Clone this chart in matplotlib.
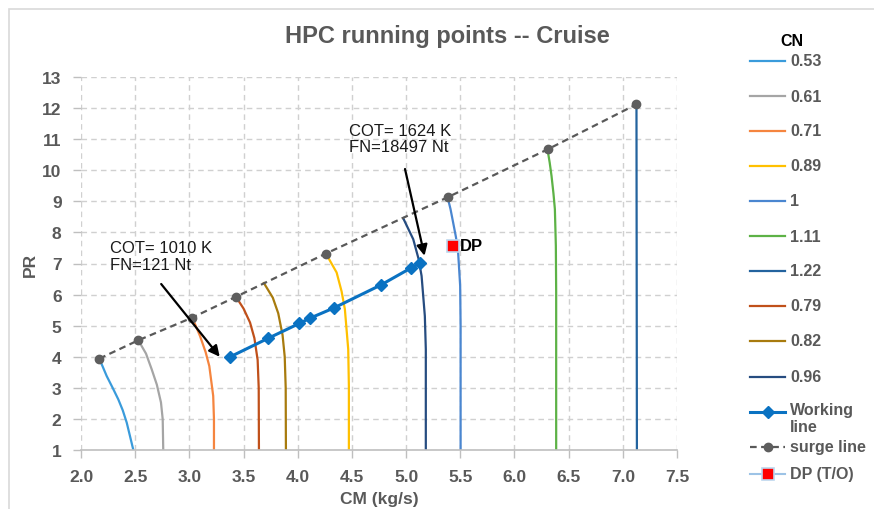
import matplotlib.pyplot as plt
from matplotlib.lines import Line2D
from matplotlib.patches import Rectangle

plt.rcParams['font.family'] = ['Liberation Sans', 'DejaVu Sans']

# constant-speed lines (corrected speed CN): mass flow vs pressure ratio
cn_labels = ['0.53', '0.61', '0.71', '0.89', '1', '1.11', '1.22', '0.79', '0.82', '0.96']
cn_colors = ['#3A9BDB', '#A5A5A5', '#F5853F', '#FFC000', '#4A86D0',
             '#5DB246', '#23639E', '#C0501A', '#A87B0E', '#264C80']
cn_x = [
    [2.169, 2.237, 2.295, 2.344, 2.385, 2.422, 2.483],
    [2.529, 2.600, 2.652, 2.700, 2.738, 2.754, 2.759],
    [3.027, 3.098, 3.150, 3.184, 3.220, 3.227, 3.227],
    [4.260, 4.359, 4.405, 4.435, 4.466, 4.472, 4.472],
    [5.383, 5.410, 5.434, 5.460, 5.480, 5.499, 5.503, 5.503],
    [6.305, 6.325, 6.342, 6.360, 6.373, 6.382, 6.385, 6.385],
    [7.126, 7.130],
    [3.430, 3.500, 3.560, 3.600, 3.630, 3.640, 3.642],
    [3.688, 3.770, 3.820, 3.860, 3.880, 3.889, 3.891],
    [4.973, 5.066, 5.115, 5.143, 5.173, 5.182, 5.182],
]
cn_y = [
    [3.94, 3.38, 2.98, 2.63, 2.28, 1.88, 1.00],
    [4.53, 4.10, 3.60, 3.10, 2.53, 1.99, 1.00],
    [5.26, 4.67, 4.15, 3.70, 2.74, 1.99, 1.00],
    [7.32, 6.71, 6.10, 5.53, 4.24, 3.06, 1.00],
    [9.13, 8.75, 8.32, 7.85, 7.36, 6.28, 4.99, 1.00],
    [10.67, 10.25, 9.82, 9.25, 8.75, 7.57, 6.07, 1.00],
    [12.12, 1.00],
    [5.93, 5.55, 5.10, 4.60, 3.90, 3.00, 1.00],
    [6.37, 5.90, 5.40, 4.70, 4.00, 3.00, 1.00],
    [8.46, 7.78, 7.15, 6.60, 5.31, 4.24, 1.00],
]

surge_x = [2.169, 2.529, 3.027, 3.430, 4.260, 5.383, 6.305, 7.126]
surge_y = [3.94, 4.53, 5.26, 5.93, 7.32, 9.13, 10.67, 12.12]

work_x = [3.372, 3.725, 4.014, 4.113, 4.334, 4.768, 5.047, 5.127]
work_y = [3.99, 4.59, 5.07, 5.24, 5.57, 6.31, 6.86, 7.01]

dp_x = [5.432]
dp_y = [7.55]

gray = '#595959'
W, H = 874, 510

fig = plt.figure(figsize=(8.74, 5.10), dpi=100)
ax = fig.add_axes([81 / W, 1 - 451 / H, 596 / W, 373 / H])

# chart frame
fig.patches.append(Rectangle((8.5 / W, -0.1), 1.2, 1 - 9.5 / H + 0.1,
                             transform=fig.transFigure, fill=False,
                             edgecolor='#D9D9D9', lw=1.2))

styles = []
for xs, ys, lab, col in zip(cn_x, cn_y, cn_labels, cn_colors):
    ax.plot(xs, ys, color=col, lw=1.6, zorder=2)
    styles.append((lab, dict(color=col, lw=1.6)))

work_style = dict(color='#0A72C2', lw=2.2, marker='D', ms=6.5)
surge_style = dict(color=gray, lw=1.6, ls=(0, (3, 2)), marker='o', ms=6,
                   mfc='#5E5E5E', mec='#5E5E5E')
dp_style = dict(color='#9DC3E6', lw=1.5, marker='s', ms=8,
                mfc='#FF0000', mec='#BDD7EE', mew=1.2)

ax.plot(work_x, work_y, zorder=4, **work_style)
ax.plot(surge_x, surge_y, zorder=3, **surge_style)
ax.plot(dp_x, dp_y, zorder=5, **dp_style)

ax.text(dp_x[0] + 0.06, dp_y[0] + 0.02, 'DP', fontsize=12, fontweight='bold',
        va='center', ha='left', color='black')

# operating-point annotations
ax.text(2.27, 7.74, 'COT= 1010 K\nFN=121 Nt', fontsize=12, va='top',
        ha='left', color='#1A1A1A', linespacing=1.1)
ax.annotate('', xy=(3.28, 4.00), xytext=(2.74, 6.34),
            arrowprops=dict(arrowstyle='-|>', color='black', lw=1.6,
                            mutation_scale=16, shrinkA=0, shrinkB=0))
ax.text(4.47, 11.52, 'COT= 1624 K\nFN=18497 Nt', fontsize=12, va='top',
        ha='left', color='#1A1A1A', linespacing=1.1)
ax.annotate('', xy=(5.17, 7.25), xytext=(4.99, 10.04),
            arrowprops=dict(arrowstyle='-|>', color='black', lw=1.6,
                            mutation_scale=16, shrinkA=0, shrinkB=0))

ax.set_xlim(2.0, 7.5)
ax.set_ylim(1, 13)
ax.set_xticks([2.0 + 0.5 * i for i in range(12)])
ax.set_yticks(range(1, 14))
ax.set_xticklabels([f'{2.0 + 0.5 * i:.1f}' for i in range(12)])
ax.grid(True, color='#D0D0D0', ls=(0, (4, 3)), lw=1)
ax.set_axisbelow(True)
for side in ['top', 'right', 'left']:
    ax.spines[side].set_visible(False)
ax.spines['bottom'].set_color('#BFBFBF')
ax.spines['bottom'].set_linewidth(1.2)
ax.tick_params(axis='both', colors='#BFBFBF', length=6, width=1,
               labelcolor=gray, labelsize=12.5, pad=8)
for lbl in ax.get_xticklabels() + ax.get_yticklabels():
    lbl.set_fontweight('bold')

ax.set_xlabel('CM (kg/s)', fontsize=12.5, fontweight='bold', color=gray, labelpad=5)
ax.set_ylabel('PR', fontsize=12.5, fontweight='bold', color=gray, labelpad=3)

fig.text(447 / W, 1 - 36 / H, 'HPC running points -- Cruise',
         fontsize=17, fontweight='bold', color=gray, ha='center', va='center')

# legend column on the right
fig.text(792 / W, 1 - 41 / H, 'CN', fontsize=11.5, fontweight='bold',
         color='black', ha='center', va='center')
entries = [(lab, st, False) for lab, st in styles]
entries += [('Working\nline', work_style, True), ('surge line', surge_style, True),
            ('DP (T/O)', dp_style, True)]
rows = [62, 97, 132, 167, 202, 237, 272, 307, 342, 378, 413, 448, 475]
for (lab, st, has_marker), yp in zip(entries, rows):
    yf = 1 - yp / H
    st = dict(st)
    if has_marker:
        st['markevery'] = [1]
    fig.add_artist(Line2D([750 / W, 767.5 / W, 785 / W], [yf] * 3,
                          transform=fig.transFigure, **st))
    if '\n' in lab:
        fig.text(790 / W, 1 - (yp - 10) / H, lab, fontsize=11.5, fontweight='bold',
                 color=gray, ha='left', va='top', linespacing=1.15)
    else:
        fig.text(790 / W, yf, lab, fontsize=11.5, fontweight='bold',
                 color=gray, ha='left', va='center')

fig.savefig('out.png', dpi=100)
